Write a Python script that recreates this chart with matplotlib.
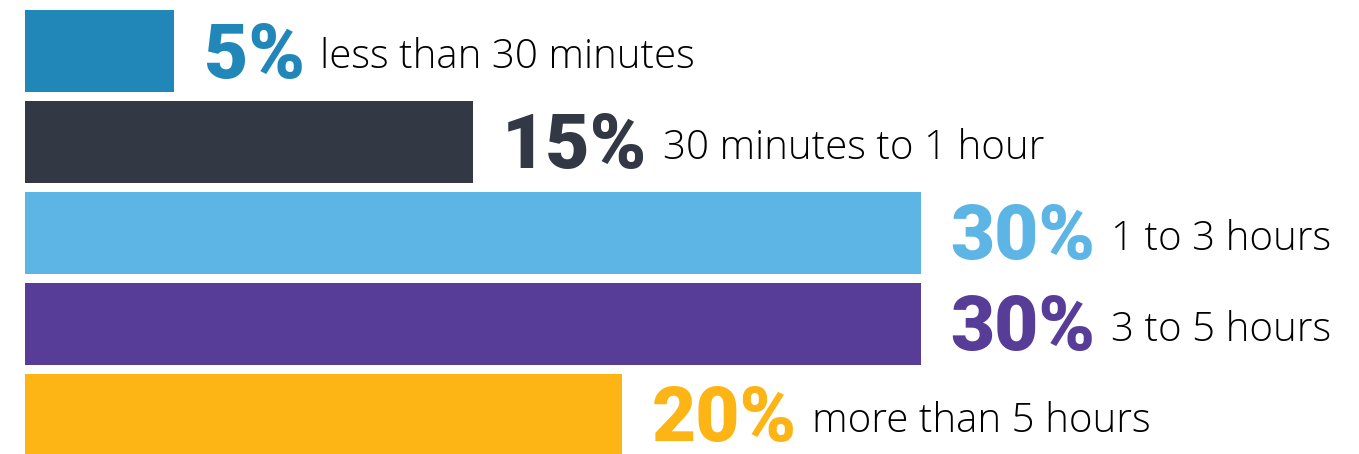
import matplotlib.pyplot as plt
import numpy as np

# survey answers, top to bottom
labels = ['less than 30 minutes', '30 minutes to 1 hour', '1 to 3 hours',
          '3 to 5 hours', 'more than 5 hours']
shares = [5, 15, 30, 30, 20]
colors = ['#2187b8', '#323844', '#5db5e5', '#573d98', '#fdb415']

fig = plt.figure(figsize=(13.59, 4.54), dpi=100)
ax = fig.add_axes([0, 0, 1, 1])

y = np.arange(len(shares))
ax.barh(y, shares, height=0.9, color=colors)

for i, (val, lab, col) in enumerate(zip(shares, labels, colors)):
    pct = ax.annotate(f'{val}%', xy=(val, i), xytext=(21, -4), textcoords='offset points',
                      ha='left', va='center', fontsize=55, fontweight='black',
                      family=['Roboto', 'DejaVu Sans'], color=col)
    ax.annotate(lab, xy=(1, 0.5), xycoords=pct, xytext=(11, -1), textcoords='offset points',
                ha='left', va='center', fontsize=29, fontweight='light',
                family=['Open Sans', 'DejaVu Sans'], color='#000000')

ax.set_xlim(-25 / 29.87, (1359 - 25) / 29.87)
ax.set_ylim(4.43, -0.56)
ax.axis('off')

plt.savefig('out.png', dpi=100)
